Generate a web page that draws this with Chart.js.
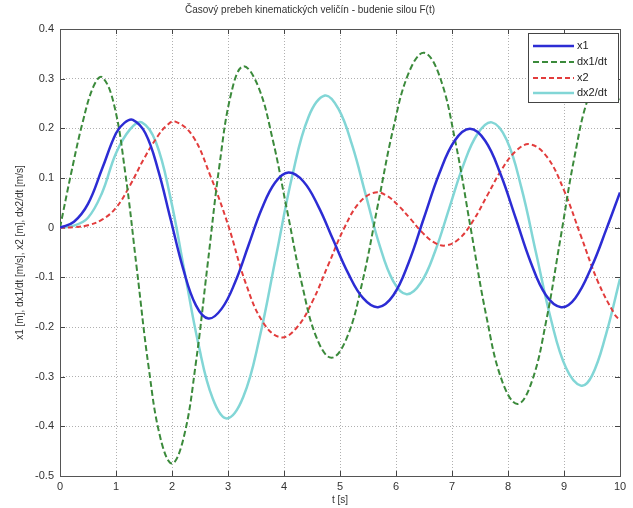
<!DOCTYPE html>
<html>
<head>
<meta charset="utf-8">
<script src="https://cdn.jsdelivr.net/npm/chart.js@4/dist/chart.umd.min.js"></script>
<style>
html,body{margin:0;padding:0;background:#fff;}
#wrap{width:633px;height:508px;}
</style>
</head>
<body>
<div id="wrap"><canvas id="c" width="633" height="508"></canvas></div>
<script>
const chartTitle = "Časový prebeh kinematických veličín - budenie silou F(t)";
const xTitle = "t [s]";
const yTitle = "x1 [m], dx1/dt [m/s], x2 [m], dx2/dt [m/s]";
const seriesNames = ["x1", "dx1/dt", "x2", "dx2/dt"];
const xTicks = [0,1,2,3,4,5,6,7,8,9,10];
const yTicks = [0.4,0.3,0.2,0.1,0,-0.1,-0.2,-0.3,-0.4,-0.5];

const x1T = [0,0.25,0.5,0.75,1.0,1.15,1.3,1.525,1.75,1.975,2.2,2.425,2.65,2.888,3.127,3.365,3.603,3.842,4.08,4.347,4.613,4.88,5.147,5.413,5.68,5.953,6.227,6.5,6.773,7.047,7.32,7.592,7.863,8.135,8.407,8.678,8.95,9.2,9.5,9.75,10];
const x1V = [0,0.012,0.048,0.118,0.19,0.211,0.217,0.19,0.117,0.017,-0.083,-0.156,-0.183,-0.163,-0.11,-0.036,0.038,0.091,0.111,0.093,0.043,-0.025,-0.092,-0.142,-0.16,-0.136,-0.07,0.02,0.109,0.175,0.199,0.175,0.109,0.02,-0.07,-0.136,-0.16,-0.142,-0.077,-0.005,0.071];

const dx1T = [0,0.2,0.4,0.6,0.75,0.958,1.167,1.375,1.583,1.792,2.0,2.212,2.423,2.635,2.847,3.058,3.27,3.533,3.797,4.06,4.323,4.587,4.85,5.125,5.4,5.675,5.95,6.225,6.5,6.778,7.057,7.335,7.613,7.892,8.17,8.425,8.68,8.935,9.19,9.445,9.7,9.85,10];
const dx1V = [0,0.11,0.21,0.285,0.303,0.251,0.109,-0.086,-0.281,-0.423,-0.475,-0.421,-0.275,-0.075,0.125,0.271,0.325,0.286,0.178,0.032,-0.115,-0.223,-0.262,-0.221,-0.109,0.045,0.199,0.311,0.352,0.305,0.175,-0.002,-0.178,-0.308,-0.355,-0.31,-0.189,-0.023,0.144,0.265,0.31,0.295,0.25];

const x2T = [0,0.25,0.5,0.75,1.0,1.25,1.5,1.75,1.9,2.05,2.367,2.683,3.0,3.317,3.633,3.95,4.23,4.51,4.79,5.07,5.35,5.63,5.838,6.047,6.255,6.463,6.672,6.88,7.132,7.383,7.635,7.887,8.138,8.39,8.693,8.997,9.3,9.603,9.907,10];
const x2V = [0,0.001,0.005,0.016,0.04,0.085,0.139,0.185,0.205,0.214,0.185,0.105,0.006,-0.112,-0.192,-0.221,-0.201,-0.148,-0.075,-0.002,0.051,0.071,0.064,0.044,0.018,-0.009,-0.029,-0.036,-0.022,0.015,0.066,0.117,0.154,0.168,0.143,0.076,-0.016,-0.108,-0.175,-0.186];

const dx2T = [0,0.25,0.5,0.75,1.0,1.25,1.46,1.713,1.967,2.22,2.473,2.727,2.98,3.272,3.563,3.855,4.147,4.438,4.73,4.973,5.217,5.46,5.703,5.947,6.19,6.443,6.697,6.95,7.203,7.457,7.71,7.975,8.24,8.505,8.77,9.035,9.3,9.5,9.75,10];
const dx2V = [0,0.004,0.02,0.07,0.15,0.198,0.212,0.172,0.063,-0.086,-0.235,-0.344,-0.384,-0.341,-0.222,-0.059,0.104,0.223,0.266,0.239,0.166,0.066,-0.034,-0.107,-0.134,-0.111,-0.048,0.039,0.126,0.189,0.212,0.177,0.08,-0.053,-0.186,-0.282,-0.318,-0.298,-0.215,-0.103];

function pts(ts, vs){ return ts.map((t,i)=>({x:t, y:vs[i]})); }

const FONT = "'Liberation Sans', Arial, sans-serif";

const frameAndTicks = {
  id: 'frameAndTicks',
  beforeDatasetsDraw(chart){
    const {ctx, chartArea:a, scales} = chart;
    ctx.save();
    ctx.strokeStyle = '#444';
    ctx.lineWidth = 1;
    ctx.beginPath();
    xTicks.forEach(v=>{
      const px = Math.round(scales.x.getPixelForValue(v))+0.5;
      ctx.moveTo(px, a.bottom); ctx.lineTo(px, a.bottom-5);
      ctx.moveTo(px, a.top); ctx.lineTo(px, a.top+5);
    });
    yTicks.forEach(v=>{
      const py = Math.round(scales.y.getPixelForValue(v))+0.5;
      ctx.moveTo(a.left, py); ctx.lineTo(a.left+5, py);
      ctx.moveTo(a.right, py); ctx.lineTo(a.right-5, py);
    });
    ctx.stroke();
    ctx.strokeStyle = '#555';
    ctx.strokeRect(Math.round(a.left)+0.5, Math.round(a.top)+0.5, Math.round(a.right-a.left), Math.round(a.bottom-a.top));
    ctx.restore();
  }
};

const boxLegend = {
  id: 'boxLegend',
  afterDraw(chart){
    const {ctx} = chart;
    const x0 = 528, y0 = 33, w = 90, h = 69;
    ctx.save();
    ctx.fillStyle = '#fff';
    ctx.fillRect(x0, y0, w, h);
    ctx.strokeStyle = '#444';
    ctx.lineWidth = 1;
    ctx.strokeRect(x0+0.5, y0+0.5, w, h);
    const rows = [46, 62, 78, 93];
    chart.data.datasets.forEach((ds,i)=>{
      ctx.strokeStyle = ds.borderColor;
      ctx.lineWidth = ds.borderWidth;
      ctx.setLineDash(ds.borderDash || []);
      ctx.beginPath();
      ctx.moveTo(533, rows[i]); ctx.lineTo(574, rows[i]);
      ctx.stroke();
      ctx.setLineDash([]);
      ctx.fillStyle = '#222';
      ctx.font = '11px ' + FONT;
      ctx.textBaseline = 'middle';
      ctx.textAlign = 'left';
      ctx.fillText(ds.label, 577, rows[i]);
    });
    ctx.restore();
  }
};

const common = {pointRadius: 0, tension: 0.4, cubicInterpolationMode: 'default', fill: false};

new Chart(document.getElementById('c'), {
  type: 'line',
  data: {
    datasets: [
      Object.assign({label: seriesNames[0], data: pts(x1T, x1V), borderColor: '#2c2cd4', borderWidth: 2.5}, common),
      Object.assign({label: seriesNames[1], data: pts(dx1T, dx1V), borderColor: '#3b8a3b', borderWidth: 2, borderDash: [6,3]}, common),
      Object.assign({label: seriesNames[2], data: pts(x2T, x2V), borderColor: '#e23c3c', borderWidth: 2, borderDash: [5,3]}, common),
      Object.assign({label: seriesNames[3], data: pts(dx2T, dx2V), borderColor: '#82d6d6', borderWidth: 2.5}, common)
    ]
  },
  options: {
    responsive: false,
    animation: false,
    layout: {padding: {left: 0, right: 13, top: 0, bottom: 0}},
    plugins: {
      legend: {display: false},
      tooltip: {enabled: false},
      title: {display: true, text: chartTitle, color: '#333', font: {family: FONT, size: 10, weight: 'normal'}, padding: {top: 4, bottom: 13}}
    },
    scales: {
      x: {
        type: 'linear', min: 0, max: 10,
        afterBuildTicks(s){ s.ticks = xTicks.map(v=>({value:v})); },
        afterFit(s){ s.height = 32; },
        ticks: {color: '#333', font: {family: FONT, size: 11}, padding: 4, maxRotation: 0},
        grid: {color: '#b0b0b0', drawTicks: false, lineWidth: 1},
        border: {display: false, dash: [1,2]},
        title: {display: true, text: xTitle, color: '#333', font: {family: FONT, size: 10}, padding: {top: 0, bottom: 2}}
      },
      y: {
        type: 'linear', min: -0.5, max: 0.4,
        afterBuildTicks(s){ s.ticks = yTicks.map(v=>({value:v})); },
        afterFit(s){ s.width = 60; },
        ticks: {color: '#333', font: {family: FONT, size: 11}, padding: 6, callback: v => String(Math.round(v*10)/10)},
        grid: {color: '#b0b0b0', drawTicks: false, lineWidth: 1},
        border: {display: false, dash: [1,2]},
        title: {display: true, text: yTitle, color: '#333', font: {family: FONT, size: 10}, padding: {top: 14, bottom: 0}}
      }
    }
  },
  plugins: [frameAndTicks, boxLegend]
});
</script>
</body>
</html>
